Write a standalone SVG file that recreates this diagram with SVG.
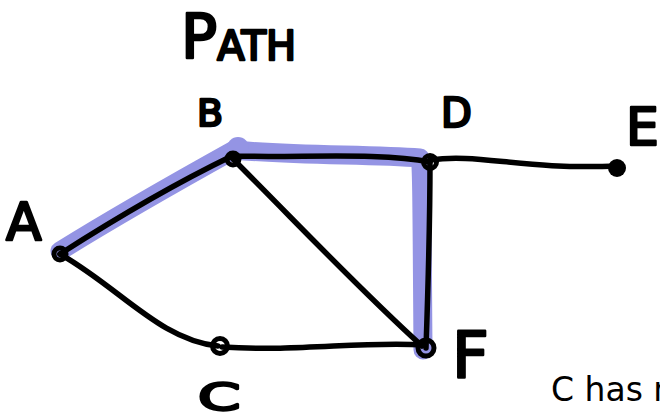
<svg xmlns="http://www.w3.org/2000/svg" width="660" height="418" viewBox="0 0 660 418">
<style>
.hl{fill:none;stroke:#9494e4;stroke-width:19;stroke-linecap:round;stroke-linejoin:round}
.edge{fill:none;stroke:#000;stroke-width:5.5;stroke-linecap:round;stroke-linejoin:round}
.node{fill:none;stroke:#000;stroke-width:5}
.lbl{font-family:"DejaVu Sans",sans-serif;fill:#000;stroke:#000;stroke-width:2.5;stroke-linejoin:round}
.note{font-family:"DejaVu Sans",sans-serif;font-size:33px;fill:#000}
</style>
<rect width="660" height="418" fill="#fff"/>
<g id="highlight">
<path class="hl" d="M60,251 C110,220 180,180 234,150 C300,156 370,154 420,158 C422,160 422,220 423,350"/>
<circle cx="238" cy="148" r="11" fill="#9494e4"/>
</g>
<g id="connectors">
<path class="edge" d="M60,254 C110,222 170,186 232,156"/>
<path class="edge" d="M232,156 C300,158 380,152 430,162"/>
<path class="edge" d="M430,160 C480,153 520,170 617,166"/>
<path class="edge" d="M232,158 C300,226 360,290 422,346"/>
<path class="edge" d="M430,162 C430,230 428,290 426,348"/>
<path class="edge" d="M60,254 C120,288 160,340 218,346"/>
<path class="edge" d="M222,347 C300,352 360,341 424,345"/>
</g>
<g id="title"><text class="lbl" x="181" y="58" font-size="60">P<tspan font-size="40" dy="2">ATH</tspan></text></g>
<g id="node-A"><circle class="node" cx="60" cy="254" r="6"/><text class="lbl" x="6" y="240" font-size="52">A</text></g>
<g id="node-B"><circle class="node" cx="233" cy="159" r="6"/><text class="lbl" x="197" y="126" font-size="38">B</text></g>
<g id="node-C"><circle class="node" cx="220" cy="346" r="7.5"/><text class="lbl" font-size="38" transform="translate(198,410) scale(1.6,1)">C</text></g>
<g id="node-D"><circle class="node" cx="430" cy="162" r="6.5"/><text class="lbl" x="441" y="127" font-size="40">D</text></g>
<g id="node-E"><circle cx="617" cy="168" r="9" fill="#000"/><text class="lbl" x="626" y="145" font-size="52">E</text></g>
<g id="node-F"><circle class="node" cx="426" cy="348" r="8"/><text class="lbl" x="452" y="377" font-size="64">F</text></g>
<g id="note"><text class="note" x="551" y="401">C has n</text></g>
</svg>
